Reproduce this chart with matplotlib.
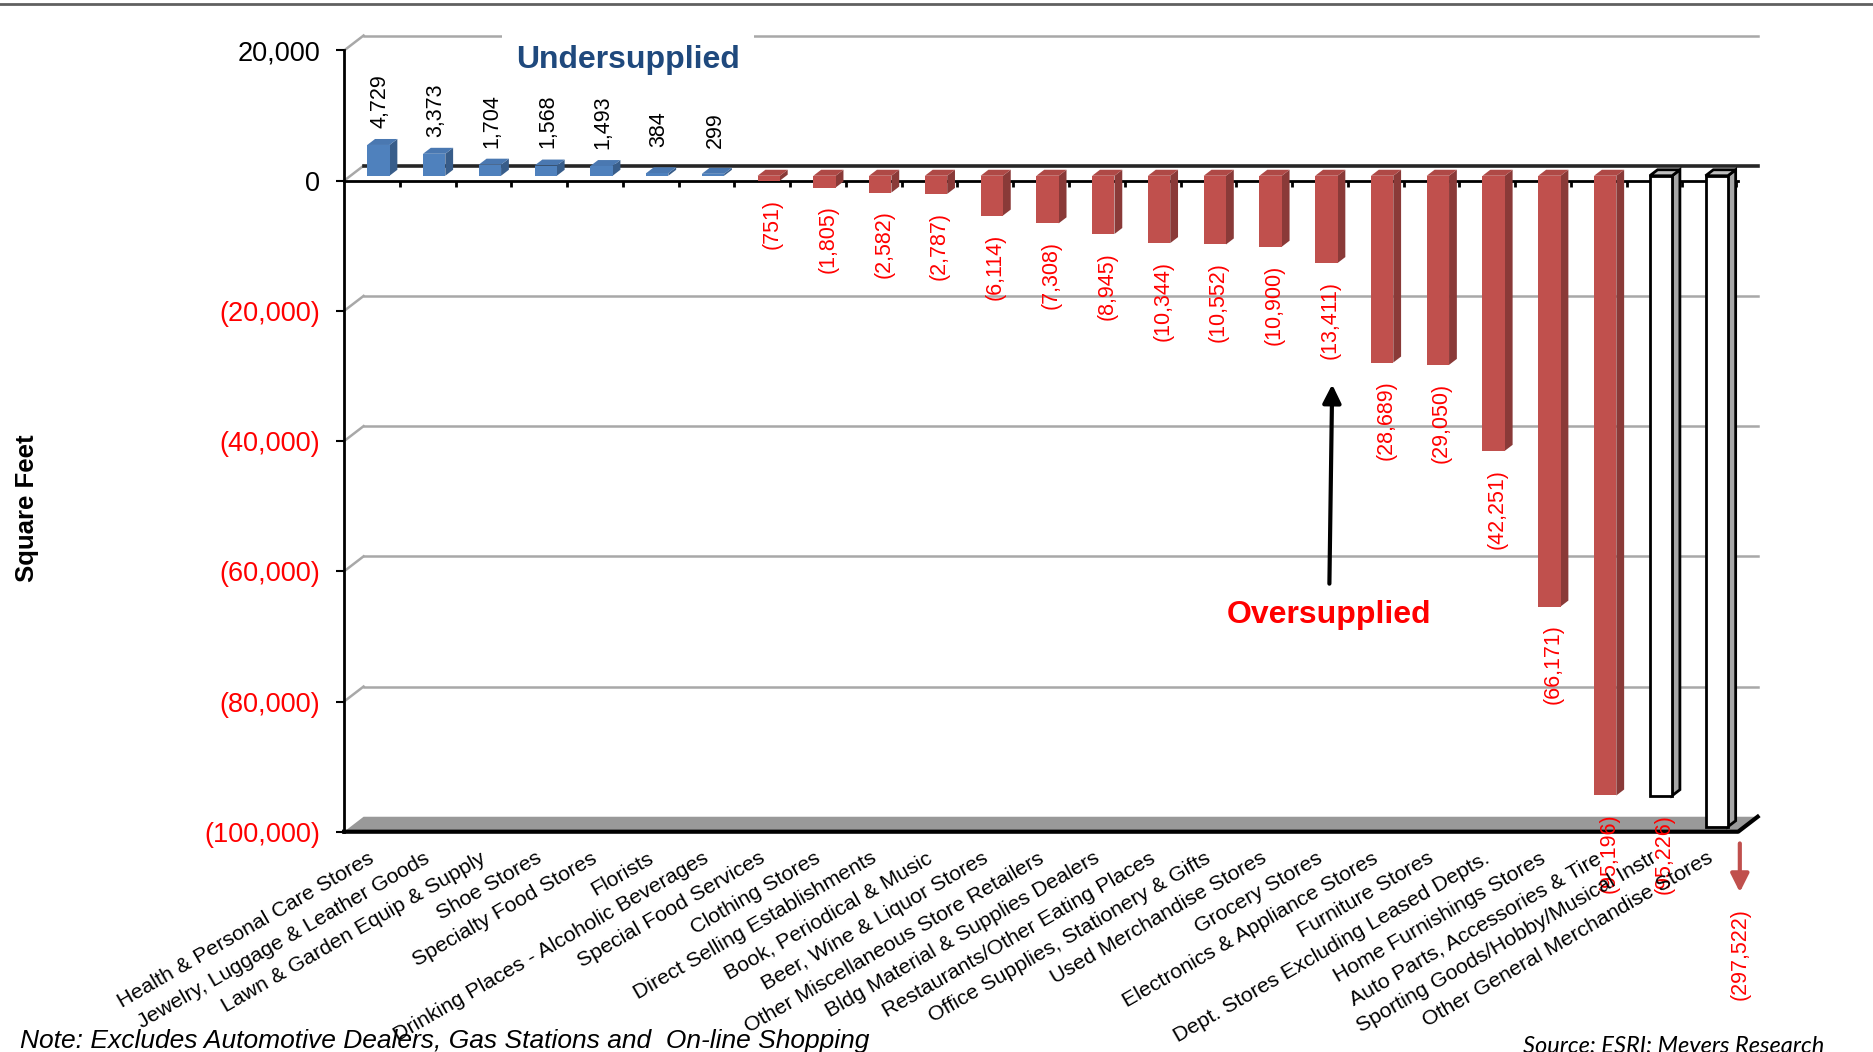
"""Retail gap chart: square feet undersupplied / oversupplied by store type.

Mimics an Excel 3D column chart (back wall, floor, shaded bar sides)
with plain matplotlib patches.
"""

import matplotlib
matplotlib.use("Agg")
import matplotlib.pyplot as plt
from matplotlib.patches import Polygon, Rectangle
from matplotlib.lines import Line2D

plt.rcParams["font.family"] = ["Liberation Sans", "DejaVu Sans"]

# --- data -----------------------------------------------------------------
categories = [
    "Health & Personal Care Stores",
    "Jewelry, Luggage & Leather Goods",
    "Lawn & Garden Equip & Supply",
    "Shoe Stores",
    "Specialty Food Stores",
    "Florists",
    "Drinking Places - Alcoholic Beverages",
    "Special Food Services",
    "Clothing Stores",
    "Direct Selling Establishments",
    "Book, Periodical & Music",
    "Beer, Wine & Liquor Stores",
    "Other Miscellaneous Store Retailers",
    "Bldg Material & Supplies Dealers",
    "Restaurants/Other Eating Places",
    "Office Supplies, Stationery & Gifts",
    "Used Merchandise Stores",
    "Grocery Stores",
    "Electronics & Appliance Stores",
    "Furniture Stores",
    "Dept. Stores Excluding Leased Depts.",
    "Home Furnishings Stores",
    "Auto Parts, Accessories & Tire",
    "Sporting Goods/Hobby/Musical Instr",
    "Other General Merchandise Stores",
]
values = [
    4729, 3373, 1704, 1568, 1493, 384, 299,
    -751, -1805, -2582, -2787, -6114, -7308, -8945, -10344,
    -10552, -10900, -13411, -28689, -29050, -42251, -66171, -95196,
    -95226, -297522,
]
groups = ["under"] * 7 + ["over"] * 16 + ["white"] * 2

y_ticks = [20000, 0, -20000, -40000, -60000, -80000, -100000]

# --- style ----------------------------------------------------------------
Y_MIN, Y_MAX = -100000, 20000
DX, DY = 0.35, 2300          # depth of the 3D walls (x in slots, y in sq ft)
BW = 0.40                    # bar front width
FRONT, DEPTH = 0.33, 0.40    # bar front position / bar depth, share of wall depth

colors = {
    "under": dict(front="#4F81BD", side="#385D8A", top="#4A78B1", edge="none", lw=0),
    "over": dict(front="#C0504D", side="#8A3A38", top="#AF4946", edge="none", lw=0),
    "white": dict(front="white", side="#A6A6A6", top="#BFBFBF", edge="black", lw=2),
}
RED = "#FF0000"
GRID = "#A8A8A8"


def fmt(v):
    if v >= 0:
        return f"{v:,.0f}"
    return f"({-v:,.0f})"


fig = plt.figure(figsize=(18.73, 10.52), dpi=100)
ax = fig.add_axes([0.1837, 0.2094, 0.7443, 0.7426])
ax.patch.set_alpha(0)
n = len(categories)

# back wall grid lines, with the diagonal on the side wall
for g in y_ticks[:-1]:
    ax.plot([0, DX], [g, g + DY], color=GRID, lw=1.8, clip_on=False, zorder=1)
    ax.plot([DX, n + DX], [g + DY, g + DY],
            color="#262626" if g == 0 else GRID,
            lw=2.6 if g == 0 else 1.8, clip_on=False, zorder=1)

# floor
ax.add_patch(Polygon([(0, Y_MIN), (n, Y_MIN), (n + DX, Y_MIN + DY), (DX, Y_MIN + DY)],
                     closed=True, facecolor="#999999", edgecolor="none",
                     clip_on=False, zorder=1))
ax.plot([0, n, n + DX], [Y_MIN, Y_MIN, Y_MIN + DY], color="black", lw=3,
        clip_on=False, zorder=2)

# category axis at zero with ticks between slots
ax.plot([0, n], [0, 0], color="black", lw=2, clip_on=False, zorder=2)
ax.vlines(range(1, n + 1), -900, 0, color="black", lw=2, zorder=2)

fdx, fdy = FRONT * DX, FRONT * DY
bdx, bdy = DEPTH * DX, DEPTH * DY

for i, (v, grp) in enumerate(zip(values, groups)):
    c = colors[grp]
    xc = i + 0.5
    xl = xc - BW / 2 + fdx
    xr = xl + BW
    vd = max(v, Y_MIN)
    lo = min(0, vd) + fdy
    hi = max(0, vd) + fdy
    kw = dict(edgecolor=c["edge"], linewidth=c["lw"], clip_on=False, zorder=3,
              joinstyle="miter")
    ax.add_patch(Polygon([(xr, lo), (xr, hi), (xr + bdx, hi + bdy), (xr + bdx, lo + bdy)],
                         closed=True, facecolor=c["side"], **kw))
    ax.add_patch(Polygon([(xl, hi), (xr, hi), (xr + bdx, hi + bdy), (xl + bdx, hi + bdy)],
                         closed=True, facecolor=c["top"], **kw))
    ax.add_patch(Rectangle((xl, lo), BW, hi - lo, facecolor=c["front"], **kw))

    # value labels
    if v < Y_MIN:
        ax.annotate("", xy=(xc + 0.53, -109300), xytext=(xc + 0.53, -101800),
                    arrowprops=dict(arrowstyle="-|>,head_length=0.5,head_width=0.25",
                                    color="#C0504D", lw=3, mutation_scale=22,
                                    shrinkA=0, shrinkB=0),
                    annotation_clip=False, zorder=4)
        ax.text(xc + 0.53, -111800, fmt(v), rotation=90, ha="center", va="top",
                color=RED, fontsize=15.5, clip_on=False, zorder=5)
    elif v >= 0:
        ax.text(xc + 0.15, v + fdy + 6750, fmt(v), rotation=90, ha="center",
                va="center", color="black", fontsize=15.5, clip_on=False, zorder=5)
    else:
        ax.text(xc + 0.18, v + fdy - 2760, fmt(v), rotation=90, ha="center",
                va="top", color=RED, fontsize=15.5, clip_on=False, zorder=5)

    # category labels
    ax.text(xc - 0.07, Y_MIN - 2600, categories[i], rotation=30,
            rotation_mode="anchor", ha="right", va="top", fontsize=15.4,
            clip_on=False, zorder=5)

# annotations
ax.text(5.09, 18540, "Undersupplied", ha="center", va="center", color="#1F497D",
        fontsize=23, fontweight="bold", zorder=6,
        bbox=dict(boxstyle="square,pad=0.45", facecolor="white", edgecolor="none"))
ax.text(17.66, -66700, "Oversupplied", ha="center", va="center", color=RED,
        fontsize=23, fontweight="bold", zorder=6)
ax.annotate("", xy=(17.72, -31300), xytext=(17.67, -61900),
            arrowprops=dict(arrowstyle="-|>,head_length=0.5,head_width=0.25",
                            color="black", lw=3, mutation_scale=22,
                            shrinkA=0, shrinkB=0),
            zorder=6)

# axes
for side in ["top", "right", "bottom"]:
    ax.spines[side].set_visible(False)
ax.spines["left"].set_linewidth(2)
ax.spines["left"].set_zorder(2)
ax.set_xticks([])
ax.set_yticks(y_ticks)
ax.set_yticklabels([fmt(t) for t in y_ticks])
ax.tick_params(axis="y", length=6, width=1.5, pad=11, labelsize=19.5)
for lbl, t in zip(ax.get_yticklabels(), y_ticks):
    lbl.set_color(RED if t < 0 else "black")
ax.set_xlim(0, n)
ax.set_ylim(Y_MIN, Y_MAX)

fig.text(27 / 1873, 1 - 508 / 1052, "Square Feet", rotation=90, ha="center",
         va="center", fontsize=18.5, fontweight="bold")
fig.text(20 / 1873, 11 / 1052, "Note: Excludes Automotive Dealers, Gas Stations and  On-line Shopping",
         ha="left", va="center", fontsize=19, style="italic")
fig.text(1523 / 1873, 16 / 1052, "Source: ESRI; Meyers Research", ha="left",
         va="top", fontsize=17, style="italic", family=["Lato", "DejaVu Sans"])
fig.add_artist(Line2D([0, 1], [1 - 4 / 1052, 1 - 4 / 1052], transform=fig.transFigure,
                      color="#606060", lw=2))

fig.savefig("out.png", dpi=100, facecolor="white")
